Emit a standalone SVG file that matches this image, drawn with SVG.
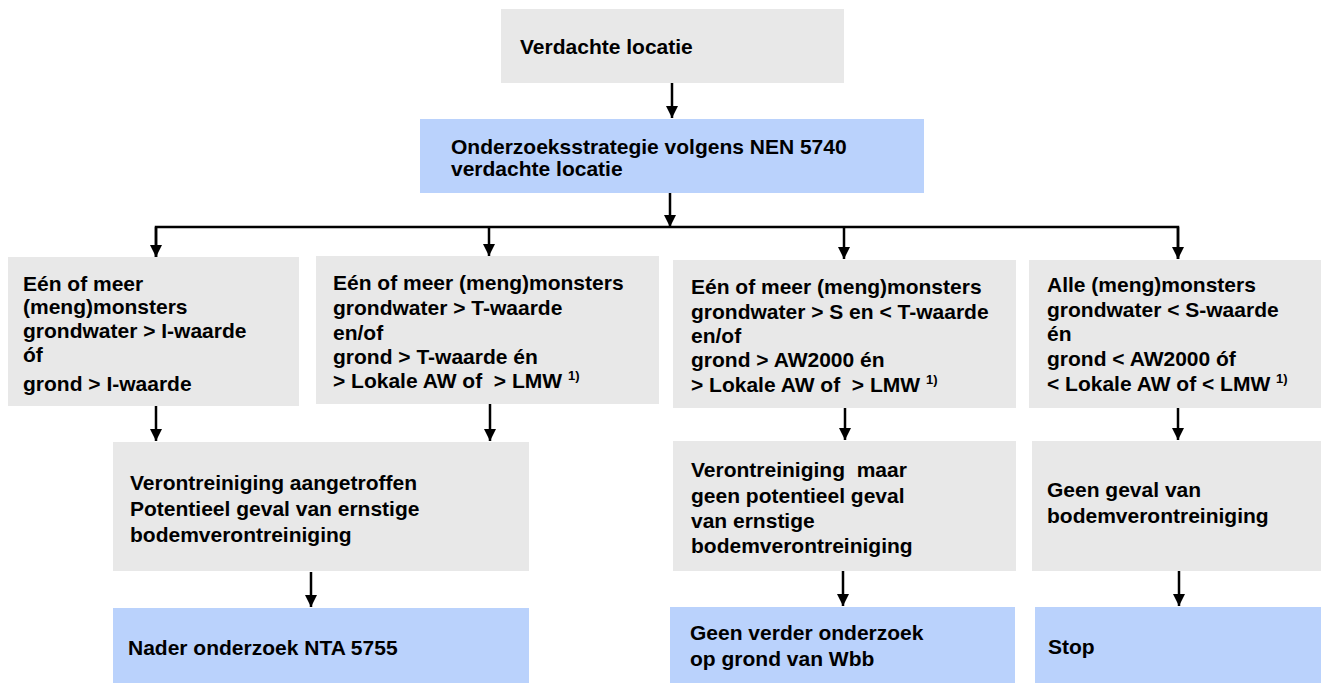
<svg xmlns="http://www.w3.org/2000/svg" width="1321" height="683" viewBox="0 0 1321 683">
<style>
  .g { fill: #e8e8e8; }
  .b { fill: #bad2fc; }
  text { font-family: "Liberation Sans", Arial, Helvetica, sans-serif; font-weight: bold; font-size: 21px; fill: #000; white-space: pre; }
  .sup { font-size: 13px; }
  .c { stroke: #000; stroke-width: 2.5; fill: none; }
</style>
<defs>
  <marker id="arr" markerUnits="userSpaceOnUse" markerWidth="14" markerHeight="14" viewBox="0 0 14 14" refX="13" refY="7" orient="auto">
    <path d="M1,1 L13,7 L1,13 Z" fill="#000"/>
  </marker>
</defs>

<g id="connectors">
  <line class="c" x1="672" y1="83" x2="672" y2="118" marker-end="url(#arr)"/>
  <line class="c" x1="670" y1="193" x2="670" y2="227" marker-end="url(#arr)"/>
  <path class="c" d="M156,258 V227 H1178 V259"/>
  <line class="c" x1="156" y1="227" x2="156" y2="257" marker-end="url(#arr)"/>
  <line class="c" x1="489" y1="227" x2="489" y2="256" marker-end="url(#arr)"/>
  <line class="c" x1="844" y1="227" x2="844" y2="259" marker-end="url(#arr)"/>
  <line class="c" x1="1178" y1="227" x2="1178" y2="259" marker-end="url(#arr)"/>
  <line class="c" x1="156" y1="406" x2="156" y2="441" marker-end="url(#arr)"/>
  <line class="c" x1="490" y1="404" x2="490" y2="441" marker-end="url(#arr)"/>
  <line class="c" x1="845" y1="408" x2="845" y2="440" marker-end="url(#arr)"/>
  <line class="c" x1="1178" y1="408" x2="1178" y2="440" marker-end="url(#arr)"/>
  <line class="c" x1="311" y1="572" x2="311" y2="607" marker-end="url(#arr)"/>
  <line class="c" x1="843" y1="571" x2="843" y2="606" marker-end="url(#arr)"/>
  <line class="c" x1="1179" y1="571" x2="1179" y2="606" marker-end="url(#arr)"/>
</g>

<g id="n-verdacht">
  <rect class="g" x="501" y="9" width="343" height="74"/>
  <text x="520" y="54">Verdachte locatie</text>
</g>

<g id="n-strategie">
  <rect class="b" x="420" y="119" width="504" height="74"/>
  <text x="451" y="154">Onderzoeksstrategie volgens NEN 5740</text>
  <text x="451" y="176">verdachte locatie</text>
</g>

<g id="n-iwaarde">
  <rect class="g" x="8" y="257" width="291" height="149"/>
  <text x="23" y="291">Eén of meer</text>
  <text x="23" y="314">(meng)monsters</text>
  <text x="23" y="338">grondwater &gt; I-waarde</text>
  <text x="23" y="362">óf</text>
  <text x="23" y="391">grond &gt; I-waarde</text>
</g>

<g id="n-twaarde">
  <rect class="g" x="316" y="256" width="343" height="148"/>
  <text x="333" y="290">Eén of meer (meng)monsters</text>
  <text x="333" y="315">grondwater &gt; T-waarde</text>
  <text x="333" y="340">en/of</text>
  <text x="333" y="364">grond &gt; T-waarde én</text>
  <text x="333" y="388">&gt; Lokale AW of  &gt; LMW <tspan class="sup" dy="-8">1)</tspan></text>
</g>

<g id="n-swaarde">
  <rect class="g" x="673" y="260" width="343" height="148"/>
  <text x="691" y="294">Eén of meer (meng)monsters</text>
  <text x="691" y="319">grondwater &gt; S en &lt; T-waarde</text>
  <text x="691" y="343">en/of</text>
  <text x="691" y="367">grond &gt; AW2000 én</text>
  <text x="691" y="392">&gt; Lokale AW of  &gt; LMW <tspan class="sup" dy="-8">1)</tspan></text>
</g>

<g id="n-alle">
  <rect class="g" x="1029" y="260" width="292" height="148"/>
  <text x="1047" y="292">Alle (meng)monsters</text>
  <text x="1047" y="317">grondwater &lt; S-waarde</text>
  <text x="1047" y="341">én</text>
  <text x="1047" y="366">grond &lt; AW2000 óf</text>
  <text x="1047" y="391">&lt; Lokale AW of &lt; LMW <tspan class="sup" dy="-8">1)</tspan></text>
</g>

<g id="n-aangetroffen">
  <rect class="g" x="113" y="442" width="416" height="129"/>
  <text x="130" y="490">Verontreiniging aangetroffen</text>
  <text x="130" y="516">Potentieel geval van ernstige</text>
  <text x="130" y="542">bodemverontreiniging</text>
</g>

<g id="n-geenpotentieel">
  <rect class="g" x="673" y="441" width="343" height="130"/>
  <text x="691" y="477">Verontreiniging  maar</text>
  <text x="691" y="503">geen potentieel geval</text>
  <text x="691" y="528">van ernstige</text>
  <text x="691" y="553">bodemverontreiniging</text>
</g>

<g id="n-geengeval">
  <rect class="g" x="1032" y="441" width="289" height="130"/>
  <text x="1047" y="497">Geen geval van</text>
  <text x="1047" y="523">bodemverontreiniging</text>
</g>

<g id="n-nader">
  <rect class="b" x="113" y="608" width="416" height="75"/>
  <text x="128" y="655">Nader onderzoek NTA 5755</text>
</g>

<g id="n-geenverder">
  <rect class="b" x="670" y="607" width="345" height="76"/>
  <text x="690" y="640">Geen verder onderzoek</text>
  <text x="690" y="666">op grond van Wbb</text>
</g>

<g id="n-stop">
  <rect class="b" x="1035" y="607" width="286" height="76"/>
  <text x="1048" y="654">Stop</text>
</g>
</svg>
